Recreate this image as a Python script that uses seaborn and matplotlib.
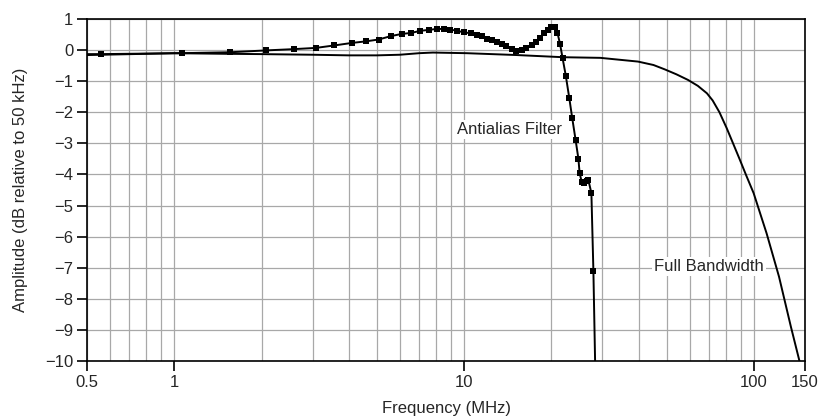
import numpy as np
import pandas as pd
import matplotlib
matplotlib.use("Agg")
import matplotlib.pyplot as plt
import matplotlib.ticker as mticker
import seaborn as sns

# Full bandwidth response (no markers)
full_freq = [0.5, 0.8, 1.0, 1.5, 2.0, 3.0, 4.0, 5.0, 6.0, 7.0, 7.8, 10.2, 15.2,
             22.0, 29.5, 39.8, 45.0, 49.2, 54.0, 59.2, 64.0, 68.8, 72.0, 76.0,
             80.5, 84.5, 89.4, 94.0, 99.7, 110.5, 122.0, 134.0, 143.5]
full_db = [-0.16, -0.12, -0.10, -0.12, -0.13, -0.15, -0.17, -0.17, -0.15, -0.10,
           -0.08, -0.10, -0.16, -0.23, -0.25, -0.37, -0.48, -0.62, -0.78, -0.96,
           -1.15, -1.39, -1.62, -2.00, -2.51, -2.98, -3.53, -4.03, -4.60, -5.89,
           -7.29, -8.89, -10.0]

# Antialias filter response (square markers on measured points)
aa_freq = [0.5, 0.56, 1.06, 1.56, 2.08, 2.58, 3.08, 3.57, 4.10, 4.58, 5.07, 5.59,
           6.10, 6.55, 7.07, 7.57, 8.05, 8.53, 8.97, 9.44, 10.0, 10.55, 11.1,
           11.5, 11.96, 12.45, 12.95, 13.5, 14.0, 14.6, 15.1, 15.8, 16.4, 17.1,
           17.7, 18.3, 18.9, 19.4, 19.95, 20.5, 20.98, 21.43, 21.86, 22.42,
           23.06, 23.61, 24.24, 24.79, 25.02, 25.46, 25.99, 26.45, 26.83, 27.48,
           27.92, 28.30]
aa_db = [-0.13, -0.13, -0.10, -0.07, -0.01, 0.03, 0.07, 0.15, 0.23, 0.28, 0.34,
         0.45, 0.52, 0.55, 0.62, 0.65, 0.68, 0.68, 0.66, 0.62, 0.57, 0.54, 0.49,
         0.44, 0.37, 0.31, 0.25, 0.18, 0.13, 0.03, -0.04, 0.00, 0.06, 0.15, 0.25,
         0.39, 0.54, 0.65, 0.73, 0.75, 0.56, 0.19, -0.26, -0.82, -1.55, -2.20,
         -2.89, -3.50, -3.95, -4.25, -4.27, -4.22, -4.18, -4.60, -7.10, -10.0]

x_ticks = [0.5, 1, 10, 100, 150]
x_ticklabels = ["0.5", "1", "10", "100", "150"]
y_ticks = list(range(-10, 2))

sns.set_style("white")
plt.rcParams["font.family"] = ["Liberation Sans", "DejaVu Sans"]
plt.rcParams["axes.unicode_minus"] = True

fig = plt.figure(figsize=(8.25, 4.19), dpi=100)
ax = fig.add_axes([0.1055, 0.1384, 0.8703, 0.8163])

full_df = pd.DataFrame({"freq": full_freq, "db": full_db})
aa_df = pd.DataFrame({"freq": aa_freq, "db": aa_db})

sns.lineplot(data=full_df, x="freq", y="db", ax=ax, color="black", lw=1.4,
             sort=False, estimator=None)
sns.lineplot(data=aa_df, x="freq", y="db", ax=ax, color="black", lw=1.4,
             sort=False, estimator=None, marker="s", markersize=4.5,
             markeredgewidth=0, markevery=list(range(1, len(aa_freq) - 1)))

ax.set_xscale("log")
ax.set_xlim(0.5, 150)
ax.set_ylim(-10, 1)

ax.xaxis.set_major_locator(mticker.FixedLocator(x_ticks))
ax.xaxis.set_major_formatter(mticker.FixedFormatter(x_ticklabels))
ax.xaxis.set_minor_locator(mticker.LogLocator(base=10, subs=np.arange(2, 10), numticks=20))
ax.xaxis.set_minor_formatter(mticker.NullFormatter())
ax.set_yticks(y_ticks)

ax.grid(which="both", axis="x", color="#a8a8a8", lw=0.9)
ax.grid(which="major", axis="y", color="#a8a8a8", lw=0.9)
ax.set_axisbelow(True)

ax.tick_params(axis="both", which="major", direction="out", length=7, width=1.2,
               color="black", labelsize=12, pad=3)
ax.tick_params(axis="x", which="minor", length=0)
ax.tick_params(axis="y", left=True)
ax.tick_params(axis="x", bottom=True)

for sp in ax.spines.values():
    sp.set_color("black")
    sp.set_linewidth(1.2)
    sp.set_visible(True)

ax.set_xlabel("Frequency (MHz)", fontsize=12, labelpad=8)
ax.set_ylabel("Amplitude (dB relative to 50 kHz)", fontsize=12, labelpad=12)

box = dict(facecolor="white", edgecolor="none", pad=1.5)
ax.text(14.3, -2.55, "Antialias Filter", fontsize=12, ha="center", va="center", bbox=box)
ax.text(70.1, -6.96, "Full Bandwidth", fontsize=12, ha="center", va="center", bbox=box)

fig.savefig("out.png", dpi=100)
